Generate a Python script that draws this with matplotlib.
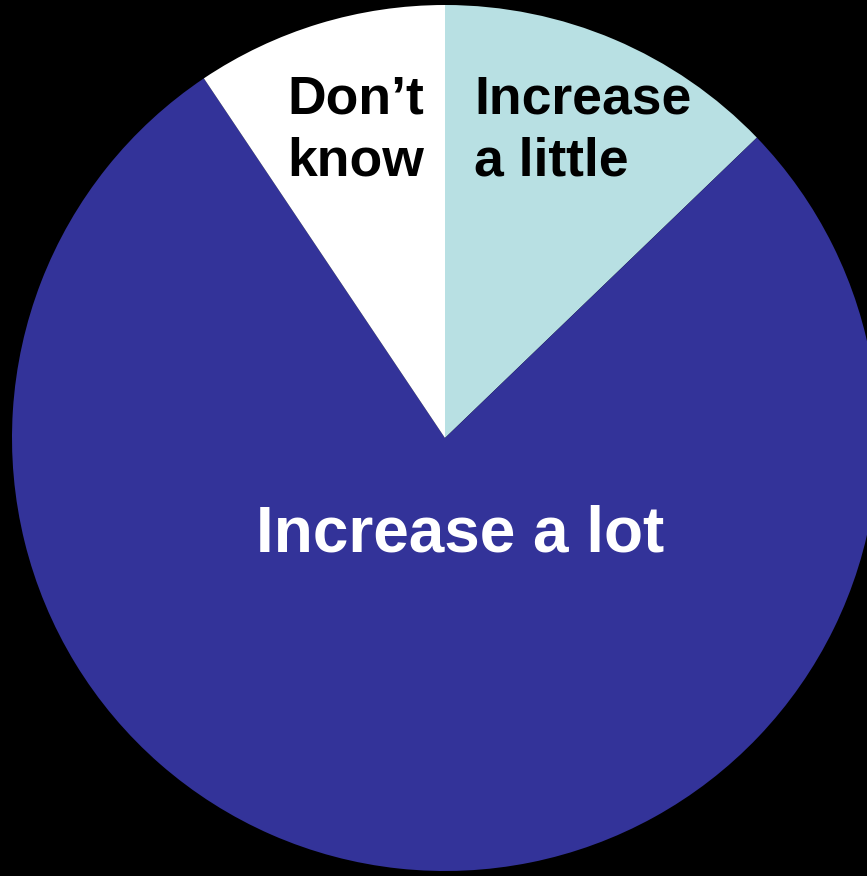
import matplotlib
matplotlib.use("Agg")
import matplotlib.pyplot as plt

categories = ["Increase a little", "Increase a lot", "Don't know"]
values = [12.8, 77.8, 9.4]
colors = ["#B8E0E3", "#333399", "#FFFFFF"]

W, H = 867, 876
fig = plt.figure(figsize=(W / 100, H / 100), dpi=100, facecolor="black")
ax = fig.add_axes([0, 0, 1, 1])
ax.set_facecolor("black")
ax.set_xlim(0, W)
ax.set_ylim(0, H)
ax.set_aspect("equal")
ax.axis("off")

cx, cy, r = 445, H - 438, 433
ax.pie(values, colors=colors, startangle=90, counterclock=False,
       center=(cx, cy), radius=r, frame=True,
       wedgeprops=dict(linewidth=0))
ax.set_xlim(0, W)
ax.set_ylim(0, H)
ax.axis("off")

font = ["Liberation Sans", "DejaVu Sans"]
# Labels
ax.text(424, H - 114, "Don\u2019t", ha="right", va="baseline", fontsize=38.5,
        fontweight="bold", family=font, color="black")
ax.text(424, H - 176, "know", ha="right", va="baseline", fontsize=38.5,
        fontweight="bold", family=font, color="black")
ax.text(474, H - 114, "Increase", ha="left", va="baseline", fontsize=38.5,
        fontweight="bold", family=font, color="black")
ax.text(474, H - 176, "a little", ha="left", va="baseline", fontsize=38.5,
        fontweight="bold", family=font, color="black")
ax.text(460, H - 552, "Increase a lot", ha="center", va="baseline", fontsize=46,
        fontweight="bold", family=font, color="white")

fig.savefig("out.png", dpi=100, facecolor="black")
